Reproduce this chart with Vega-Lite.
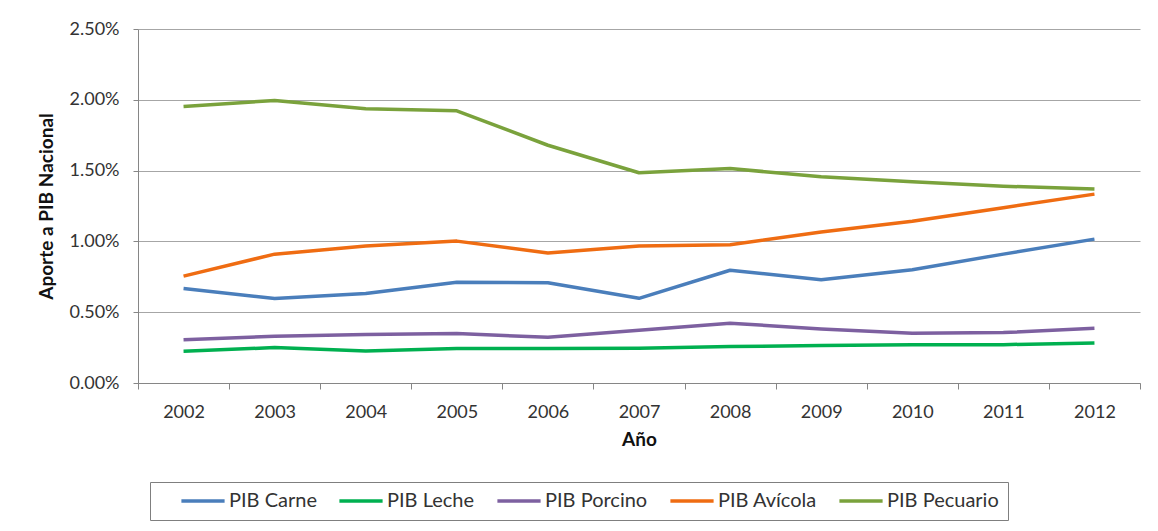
{
  "$schema": "https://vega.github.io/schema/vega-lite/v6.json",
  "width": 1002,
  "height": 354,
  "autosize": {"type": "none"},
  "padding": {"left": 138, "top": 29, "right": 18, "bottom": 148},
  "background": "white",
  "config": {
    "view": {"stroke": null},
    "font": "Lato"
  },
  "data": {
    "values": [
      {"anio": "2002", "serie": "PIB Carne", "aporte": 0.00667},
      {"anio": "2003", "serie": "PIB Carne", "aporte": 0.00597},
      {"anio": "2004", "serie": "PIB Carne", "aporte": 0.00632},
      {"anio": "2005", "serie": "PIB Carne", "aporte": 0.00712},
      {"anio": "2006", "serie": "PIB Carne", "aporte": 0.00708},
      {"anio": "2007", "serie": "PIB Carne", "aporte": 0.00598},
      {"anio": "2008", "serie": "PIB Carne", "aporte": 0.00796},
      {"anio": "2009", "serie": "PIB Carne", "aporte": 0.00729},
      {"anio": "2010", "serie": "PIB Carne", "aporte": 0.00800},
      {"anio": "2011", "serie": "PIB Carne", "aporte": 0.00910},
      {"anio": "2012", "serie": "PIB Carne", "aporte": 0.01016},

      {"anio": "2002", "serie": "PIB Leche", "aporte": 0.00225},
      {"anio": "2003", "serie": "PIB Leche", "aporte": 0.00250},
      {"anio": "2004", "serie": "PIB Leche", "aporte": 0.00226},
      {"anio": "2005", "serie": "PIB Leche", "aporte": 0.00243},
      {"anio": "2006", "serie": "PIB Leche", "aporte": 0.00244},
      {"anio": "2007", "serie": "PIB Leche", "aporte": 0.00246},
      {"anio": "2008", "serie": "PIB Leche", "aporte": 0.00257},
      {"anio": "2009", "serie": "PIB Leche", "aporte": 0.00264},
      {"anio": "2010", "serie": "PIB Leche", "aporte": 0.00270},
      {"anio": "2011", "serie": "PIB Leche", "aporte": 0.00271},
      {"anio": "2012", "serie": "PIB Leche", "aporte": 0.00283},

      {"anio": "2002", "serie": "PIB Porcino", "aporte": 0.00306},
      {"anio": "2003", "serie": "PIB Porcino", "aporte": 0.00330},
      {"anio": "2004", "serie": "PIB Porcino", "aporte": 0.00342},
      {"anio": "2005", "serie": "PIB Porcino", "aporte": 0.00349},
      {"anio": "2006", "serie": "PIB Porcino", "aporte": 0.00323},
      {"anio": "2007", "serie": "PIB Porcino", "aporte": 0.00372},
      {"anio": "2008", "serie": "PIB Porcino", "aporte": 0.00422},
      {"anio": "2009", "serie": "PIB Porcino", "aporte": 0.00382},
      {"anio": "2010", "serie": "PIB Porcino", "aporte": 0.00351},
      {"anio": "2011", "serie": "PIB Porcino", "aporte": 0.00356},
      {"anio": "2012", "serie": "PIB Porcino", "aporte": 0.00386},

      {"anio": "2002", "serie": "PIB Avícola", "aporte": 0.00755},
      {"anio": "2003", "serie": "PIB Avícola", "aporte": 0.00910},
      {"anio": "2004", "serie": "PIB Avícola", "aporte": 0.00967},
      {"anio": "2005", "serie": "PIB Avícola", "aporte": 0.01002},
      {"anio": "2006", "serie": "PIB Avícola", "aporte": 0.00918},
      {"anio": "2007", "serie": "PIB Avícola", "aporte": 0.00968},
      {"anio": "2008", "serie": "PIB Avícola", "aporte": 0.00977},
      {"anio": "2009", "serie": "PIB Avícola", "aporte": 0.01067},
      {"anio": "2010", "serie": "PIB Avícola", "aporte": 0.01142},
      {"anio": "2011", "serie": "PIB Avícola", "aporte": 0.01238},
      {"anio": "2012", "serie": "PIB Avícola", "aporte": 0.01334},

      {"anio": "2002", "serie": "PIB Pecuario", "aporte": 0.01953},
      {"anio": "2003", "serie": "PIB Pecuario", "aporte": 0.01995},
      {"anio": "2004", "serie": "PIB Pecuario", "aporte": 0.01936},
      {"anio": "2005", "serie": "PIB Pecuario", "aporte": 0.01922},
      {"anio": "2006", "serie": "PIB Pecuario", "aporte": 0.01679},
      {"anio": "2007", "serie": "PIB Pecuario", "aporte": 0.01485},
      {"anio": "2008", "serie": "PIB Pecuario", "aporte": 0.01514},
      {"anio": "2009", "serie": "PIB Pecuario", "aporte": 0.01457},
      {"anio": "2010", "serie": "PIB Pecuario", "aporte": 0.01421},
      {"anio": "2011", "serie": "PIB Pecuario", "aporte": 0.01390},
      {"anio": "2012", "serie": "PIB Pecuario", "aporte": 0.01370}
    ]
  },
  "mark": {"type": "line", "strokeWidth": 3.5, "strokeJoin": "round"},
  "encoding": {
    "x": {
      "field": "anio",
      "type": "ordinal",
      "scale": {"type": "band", "paddingInner": 0, "paddingOuter": 0},
      "axis": {
        "title": "Año",
        "tickBand": "extent",
        "labelAngle": 0,
        "grid": false,
        "domainColor": "#868686",
        "tickColor": "#868686",
        "tickSize": 6,
        "labelPadding": 14,
        "labelFontSize": 18,
        "labelColor": "#333333",
        "titleFontSize": 19,
        "titleFontWeight": "bold",
        "titleColor": "#111111",
        "titlePadding": 9
      }
    },
    "y": {
      "field": "aporte",
      "type": "quantitative",
      "scale": {"domain": [0, 0.025], "nice": false},
      "axis": {
        "title": "Aporte a PIB Nacional",
        "values": [0, 0.005, 0.01, 0.015, 0.02, 0.025],
        "format": ".2%",
        "grid": true,
        "gridColor": "#A6A6A6",
        "gridWidth": 1,
        "domainColor": "#868686",
        "tickColor": "#868686",
        "tickSize": 5,
        "labelPadding": 14,
        "labelFontSize": 18,
        "labelColor": "#333333",
        "titleFontSize": 19,
        "titleFontWeight": "bold",
        "titleColor": "#111111",
        "titlePadding": 13
      }
    },
    "color": {
      "field": "serie",
      "type": "nominal",
      "sort": ["PIB Carne", "PIB Leche", "PIB Porcino", "PIB Avícola", "PIB Pecuario"],
      "scale": {
        "domain": ["PIB Carne", "PIB Leche", "PIB Porcino", "PIB Avícola", "PIB Pecuario"],
        "range": ["#4A7EBB", "#00B050", "#7D60A0", "#EF6C12", "#7AA23C"]
      },
      "legend": {
        "title": null,
        "orient": "none",
        "legendX": 12,
        "legendY": 453,
        "direction": "horizontal",
        "columns": 5,
        "symbolType": "M-2.7,0H2.7",
        "symbolSize": 256,
        "symbolStrokeWidth": 3.5,
        "symbolOffset": 34,
        "columnPadding": 0,
        "labelOffset": 16,
        "labelFontSize": 20,
        "labelColor": "#333333",
        "padding": 9,
        "strokeColor": "#7F7F7F",
        "fillColor": "white"
      }
    }
  }
}
